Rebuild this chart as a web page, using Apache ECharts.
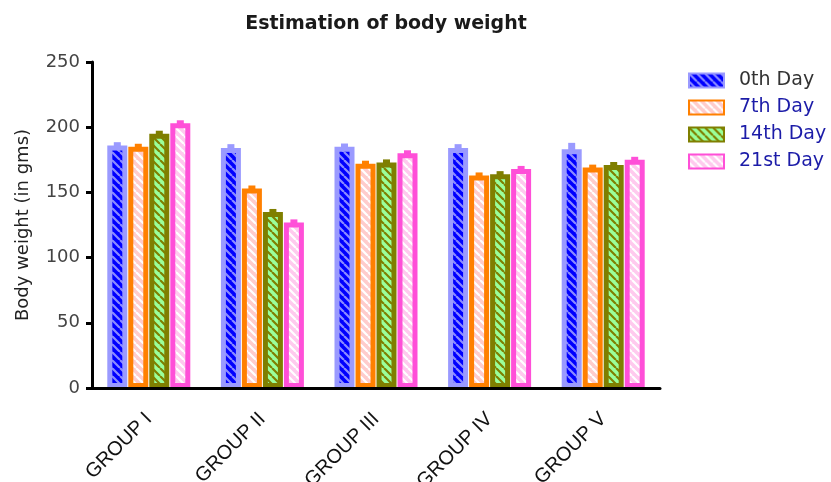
<!DOCTYPE html>
<html><head><meta charset="utf-8">
<script src="https://cdn.jsdelivr.net/npm/echarts@6/dist/echarts.min.js"></script>
<style>html,body{margin:0;padding:0;background:#fff}#c{width:831px;height:482px}</style>
</head><body><div id="c"></div>
<script>
var categories = ['GROUP I','GROUP II','GROUP III','GROUP IV','GROUP V'];
var seriesNames = ['0th Day','7th Day','14th Day','21st Day'];
var day0 = [186, 184, 185, 184, 183];
var day7 = [185, 153, 172, 163, 169];
var day14 = [195, 135, 173, 164, 171];
var day21 = [203, 127, 180, 168, 175];
var err0 = [2.5, 3, 2.5, 3, 5];
var err7 = [2, 2, 2, 2, 2];
var err14 = [2, 2, 2, 2, 2];
var err21 = [2, 2, 2, 2, 2];
var yTicks = [0, 50, 100, 150, 200, 250];

var values = [day0, day7, day14, day21];
var errs = [err0, err7, err14, err21];
var borderColors = ['#9a9aff', '#ff8000', '#7f7f00', '#ff4fd8'];
var fillColors = ['#0000ff', '#ffcccc', '#9aff9a', '#ffcaee'];
var stripeColors = ['#8c8cff', '#ffffff', '#7f7f00', '#ffffff'];
var legendText = ['#333333', '#1c1ca8', '#1c1ca8', '#1c1ca8'];
var FONT = 'DejaVu Sans';

function pattern(bg, fg) {
  var s = 8;
  var c = document.createElement('canvas');
  c.width = s; c.height = s;
  var g = c.getContext('2d');
  g.fillStyle = bg; g.fillRect(0, 0, s, s);
  g.strokeStyle = fg; g.lineWidth = 2.2;
  g.beginPath();
  for (var k = -1; k <= 1; k++) {
    g.moveTo(k * s, 0); g.lineTo(k * s + s, s);
  }
  g.stroke();
  return c;
}

var BW = 20, GAP = 1, BORDER = 5;
var series = [];
values.forEach(function (v, i) {
  series.push({
    name: seriesNames[i], type: 'bar', data: v,
    barWidth: BW, barGap: (GAP / BW * 100) + '%',
    itemStyle: {
      color: { image: pattern(fillColors[i], stripeColors[i]), repeat: 'repeat' },
      borderColor: borderColors[i], borderWidth: BORDER
    },
    z: 2
  });
});
values.forEach(function (v, i) {
  var data = v.map(function (val, j) { return [j, val, errs[i][j]]; });
  series.push({
    type: 'custom', data: data, z: 1, silent: true,
    renderItem: (function (idx) {
      return function (params, api) {
        var c = api.value(0), val = api.value(1), e = api.value(2);
        var total = 4 * BW + 3 * GAP;
        var off = -total / 2 + idx * (BW + GAP) + BW / 2;
        var p0 = api.coord([c, val]);
        var p1 = api.coord([c, val + e]);
        var x = p0[0] + off;
        var top = Math.min(p1[1], p0[1] - 3);
        return {
          type: 'rect',
          shape: { x: x - 3.5, y: top, width: 7, height: p0[1] - top + 2 },
          style: { fill: borderColors[idx] }
        };
      };
    })(i)
  });
});

var chart = echarts.init(document.getElementById('c'), null, { renderer: 'canvas' });
chart.setOption({
  animation: false,
  title: {
    text: 'Estimation of body weight', left: 381, top: 10, textAlign: 'center',
    textStyle: { fontFamily: FONT, fontSize: 19, fontWeight: 'bold', color: '#1a1a1a' }
  },
  legend: {
    orient: 'vertical', left: 683, top: 66, itemWidth: 35, itemHeight: 14, itemGap: 8,
    icon: 'rect',
    data: seriesNames.map(function (n, i) { return { name: n, textStyle: { color: legendText[i] } }; }),
    textStyle: { fontFamily: FONT, fontSize: 19, lineHeight: 19, padding: [0, 0, 0, 10] }
  },
  grid: { left: 92, right: 171, top: 62, bottom: 94, containLabel: false, outerBoundsMode: 'none' },
  xAxis: {
    type: 'category', data: categories, z: 5,
    axisLine: { lineStyle: { color: '#000', width: 3 } },
    axisTick: { alignWithLabel: true, length: 6, lineStyle: { color: '#000', width: 3 } },
    axisLabel: { rotate: 45, fontFamily: 'Liberation Sans', fontSize: 20, color: '#111', margin: 28 }
  },
  yAxis: {
    type: 'value', min: 0, max: 250, interval: 50,
    name: 'Body weight (in gms)', nameLocation: 'middle', nameGap: 60,
    nameTextStyle: { fontFamily: FONT, fontSize: 18, color: '#222' },
    axisLine: { show: true, lineStyle: { color: '#000', width: 3 } },
    axisTick: { show: true, length: 6, lineStyle: { color: '#000', width: 3 } },
    splitLine: { show: false },
    axisLabel: { fontFamily: FONT, fontSize: 18, color: '#444', margin: 12,
      formatter: function (v) { return yTicks.indexOf(v) >= 0 ? String(v) : ''; } }
  },
  series: series
});
</script></body></html>
